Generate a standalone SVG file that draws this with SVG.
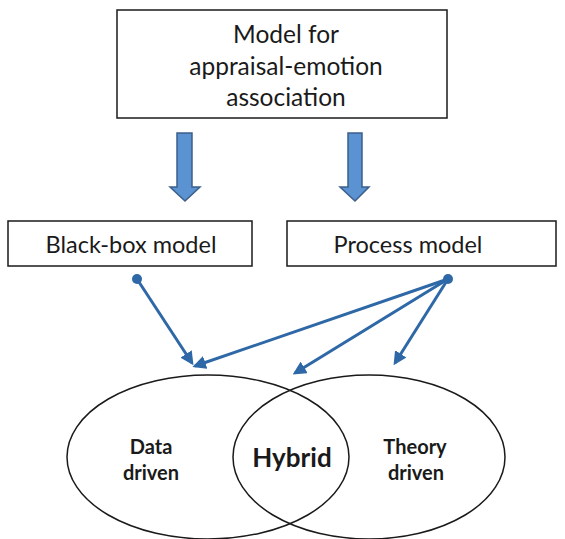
<svg xmlns="http://www.w3.org/2000/svg" width="565" height="539" viewBox="0 0 565 539">
<defs>
<style>
.box{fill:#fff;stroke:#1a1a1a;stroke-width:1.5}
.t{font-family:Lato,"Open Sans","Liberation Sans",sans-serif;fill:#1a1a1a;text-anchor:middle}
.big{font-size:24.5px}
.mid{font-size:23.5px}
.b{font-weight:bold}
.sm{font-size:20px}
.blk{fill:#5b92d2;stroke:#3b5f8a;stroke-width:1.5}
.con{stroke:#2e68a6;stroke-width:3;fill:none}
.ell{fill:none;stroke:#1a1a1a;stroke-width:1.5}
</style>
<marker id="ah" viewBox="0 0 10 10" refX="8" refY="5" markerWidth="4.5" markerHeight="4.5" orient="auto" markerUnits="strokeWidth">
<path d="M0,0 L10,5 L0,10 z" fill="#2e68a6"/>
</marker>
</defs>
<rect width="565" height="539" fill="#fff"/>
<g id="top">
<rect class="box" x="117" y="10" width="330" height="108"/>
<text class="t big" x="286" y="43">Model for</text>
<text class="t big" x="286" y="75">appraisal-emotion</text>
<text class="t big" x="286" y="106">association</text>
</g>
<g id="arrow-left">
<path class="blk" d="M177,133 H192 V187 H200 L185,201 L170,187 H177 Z"/>
</g>
<g id="arrow-right">
<path class="blk" d="M348,133 H362 V187 H369 L355,201 L340,187 H348 Z"/>
</g>
<g id="blackbox">
<rect class="box" x="8" y="221" width="244" height="45"/>
<text class="t mid" x="131" y="253">Black-box model</text>
</g>
<g id="process">
<rect class="box" x="287" y="221" width="269" height="45"/>
<text class="t mid" x="408" y="253">Process model</text>
</g>
<g id="connectors">
<circle cx="137" cy="279" r="5" fill="#2e68a6"/>
<circle cx="448" cy="279" r="5" fill="#2e68a6"/>
<line class="con" x1="137" y1="279" x2="192" y2="363" marker-end="url(#ah)"/>
<line class="con" x1="448" y1="279" x2="195" y2="366" marker-end="url(#ah)"/>
<line class="con" x1="448" y1="279" x2="295" y2="373" marker-end="url(#ah)"/>
<line class="con" x1="448" y1="279" x2="395" y2="363" marker-end="url(#ah)"/>
</g>
<g id="data-driven">
<ellipse class="ell" cx="208" cy="457" rx="141" ry="82"/>
<text class="t b sm" x="151" y="454">Data</text>
<text class="t b sm" x="151" y="480">driven</text>
</g>
<g id="theory-driven">
<ellipse class="ell" cx="369" cy="457" rx="136" ry="82"/>
<text class="t b sm" x="415" y="454">Theory</text>
<text class="t b sm" x="416" y="480">driven</text>
</g>
<g id="hybrid">
<text class="t b" style="font-size:26px" x="292" y="467">Hybrid</text>
</g>
</svg>
